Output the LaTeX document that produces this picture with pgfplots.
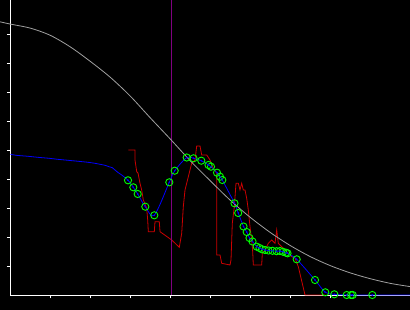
\documentclass[border=0pt]{standalone}
\usepackage{pgfplots}
\pgfplotsset{compat=1.18}
\definecolor{myred}{RGB}{205,0,0}
\definecolor{mygray}{RGB}{160,160,160}
\definecolor{mypurple}{RGB}{128,0,128}
\definecolor{mygreen}{RGB}{0,255,0}
\begin{document}
\begin{tikzpicture}
\path[use as bounding box, fill=black] (-10.5pt,-15pt) rectangle (399.5pt,295pt);
\begin{axis}[
  at={(0pt,0pt)}, anchor=south west,
  scale only axis, width=399.5pt, height=295pt,
  xmin=0, xmax=9.9875, ymin=0, ymax=10.172,
  axis x line*=bottom, axis y line*=left,
  axis line style={white, line width=0.9pt},
  xtick={1,...,8}, ytick={1,...,9},
  xticklabels={}, yticklabels={},
  tick align=outside, major tick length=3.5pt,
  tick style={white, line width=0.9pt},
  clip=false,
]
% red trace
\addplot[myred, line width=0.8pt] coordinates {
(2.945,5.000) (3.1125,5.000) (3.1125,4.655) (3.155,4.252) (3.1875,4.207)
(3.2375,3.852) (3.28,3.621) (3.32,3.276) (3.405,2.990) (3.43,2.586)
(3.445,2.183) (3.595,2.183) (3.6125,2.528) (3.72,2.528) (3.7375,2.183)
(4.03,1.897) (4.22,1.645) (4.28,2.128) (4.32,3.045) (4.3625,3.621)
(4.445,4.079) (4.53,4.541) (4.6125,4.655) (4.655,5.138) (4.7375,5.138)
(4.78,4.828) (4.905,4.828) (4.9875,4.655) (5.07,4.369) (5.155,4.197)
(5.155,1.379) (5.2375,1.379) (5.28,1.093) (5.4875,1.034) (5.5125,1.207)
(5.545,2.472) (5.595,3.045) (5.6375,3.852) (5.695,3.852) (5.7375,3.621)
(5.78,3.852) (5.82,3.621) (5.8625,3.621) (5.905,3.334) (5.945,2.931)
(5.9875,2.355) (6.03,1.897) (6.055,1.493) (6.07,1.034) (6.28,1.034)
(6.295,1.438) (6.3625,1.552) (6.445,1.783) (6.53,1.897) (6.6125,1.783)
(6.655,2.241) (6.695,1.783) (6.8125,1.621) (6.945,1.438) (7.03,1.321)
(7.1125,1.276) (7.195,0.976) (7.3625,0) (7.8625,0)
};
% vertical marker
\addplot[mypurple, line width=0.8pt] coordinates {(4.03,0) (4.03,10.172)};
% blue fitted line
\addplot[blue, line width=0.8pt, smooth, tension=0.5] coordinates {
(0,4.852) (0.1375,4.817) (0.4375,4.783) (0.68,4.748) (0.9625,4.714)
(1.18,4.679) (1.4375,4.645) (1.695,4.610) (1.9375,4.576) (2.1125,4.541)
(2.2375,4.507) (2.3625,4.472) (2.4625,4.424) (2.545,4.390) (2.6125,4.310)
(2.695,4.217) (2.78,4.138)
(2.9375,3.955) (3.07,3.714) (3.18,3.483) (3.37,3.045) (3.595,2.748)
(3.97,3.886) (4.105,4.286) (4.405,4.741) (4.575,4.714) (4.77,4.631)
(4.95,4.483) (5.0125,4.424) (5.1625,4.217) (5.2375,4.079) (5.295,3.966)
(5.6,3.162) (5.6925,2.828) (5.825,2.362) (5.905,2.172) (5.975,1.966)
(6.05,1.845) (6.155,1.666) (6.225,1.621) (6.2875,1.576) (6.3625,1.552)
(6.45,1.534) (6.55,1.524) (6.65,1.510) (6.7375,1.517) (6.8125,1.490)
(6.8875,1.459) (6.925,1.438) (7.155,1.231) (7.6125,0.517) (7.87,0.093)
(8.095,0.024) (8.405,0) (8.5125,0) (8.555,0) (9.045,0) (9.9875,0)
};
% gray reference curve
\addplot[mygray, line width=0.8pt, smooth] coordinates {
(-0.2625,9.42) (0,9.34) (0.5,9.2) (1,8.95) (1.5,8.55) (2,8.05) (2.5,7.5)
(3,6.85) (3.5,6.10) (4,5.37) (4.5,4.62) (5,3.93) (5.5,3.26) (6,2.67)
(6.5,2.15) (7,1.70) (7.5,1.32) (8,1.01) (8.5,0.76) (9,0.56) (9.5,0.40)
(9.9875,0.29)
};
% sample points
\addplot[only marks, mark=o, mark size=3.6pt, mygreen, mark options={line width=0.9pt}] coordinates {
(2.9375,3.955) (3.07,3.714) (3.18,3.483) (3.37,3.045) (3.595,2.748)
(3.97,3.886) (4.105,4.286) (4.405,4.741) (4.575,4.714) (4.77,4.631)
(4.95,4.483) (5.0125,4.424) (5.1625,4.217) (5.2375,4.079) (5.295,3.966)
(5.6,3.162) (5.6925,2.828) (5.825,2.362) (5.905,2.172) (5.975,1.966)
(6.05,1.845) (6.155,1.666) (6.225,1.621) (6.2875,1.576) (6.3625,1.552)
(6.45,1.534) (6.55,1.524) (6.65,1.510) (6.7375,1.517) (6.8125,1.490)
(6.8875,1.459) (6.925,1.438) (7.155,1.231) (7.6125,0.517) (7.87,0.093)
(8.095,0.024) (8.405,0) (8.5125,0) (8.555,0) (9.045,0)
};
\addplot[only marks, mark=*, mark size=0.6pt, blue] coordinates {
(2.9375,3.955) (3.07,3.714) (3.18,3.483) (3.37,3.045) (3.595,2.748)
(3.97,3.886) (4.105,4.286) (4.405,4.741) (4.575,4.714) (4.77,4.631)
(4.95,4.483) (5.0125,4.424) (5.1625,4.217) (5.2375,4.079) (5.295,3.966)
(5.6,3.162) (5.6925,2.828) (5.825,2.362) (5.905,2.172) (5.975,1.966)
(6.05,1.845) (6.155,1.666) (6.225,1.621) (6.2875,1.576) (6.3625,1.552)
(6.45,1.534) (6.55,1.524) (6.65,1.510) (6.7375,1.517) (6.8125,1.490)
(6.8875,1.459) (6.925,1.438) (7.155,1.231) (7.6125,0.517) (7.87,0.093)
(8.095,0.024) (8.405,0) (8.5125,0) (8.555,0) (9.045,0)
};
\end{axis}
\end{tikzpicture}
\end{document}
